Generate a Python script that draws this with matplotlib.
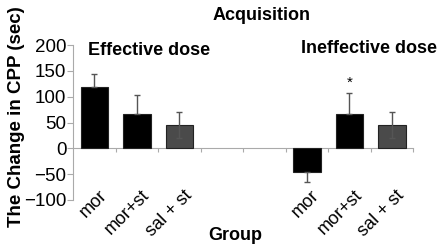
import matplotlib
matplotlib.use('Agg')
import matplotlib.pyplot as plt
import matplotlib.transforms as mtransforms
import numpy as np

plt.rcParams['font.family'] = ['Liberation Sans', 'DejaVu Sans']

# data
groups = ['mor', 'mor+st', 'sal + st', '', '', 'mor', 'mor+st', 'sal + st']
values = [118, 67, 45, np.nan, np.nan, -45, 67, 45]
err_up = [25, 36, 25, 0, 0, 0, 41, 25]
err_down = [0, 0, 25, 0, 0, 20, 0, 25]
colors = ['black', 'black', '#4a4a4a', 'white', 'white', 'black', 'black', '#4a4a4a']

fig = plt.figure(figsize=(4.41, 2.46), dpi=100)
ax = fig.add_axes([0.166, 0.187, 0.771, 0.63])

x = np.arange(len(groups))
ax.bar(x, values, width=0.64, color=colors, edgecolor='#222222', linewidth=0.8,
       yerr=[err_down, err_up], error_kw=dict(ecolor='#555555', elinewidth=1, capsize=2, capthick=1))

ax.set_xlim(-0.5, len(groups) - 0.5)
ax.set_ylim(-100, 200)
ax.set_yticks([-100, -50, 0, 50, 100, 150, 200])
ax.tick_params(axis='y', labelsize=13.5, colors='#aaaaaa', labelcolor='black', length=4, pad=1)

ax.set_xticks(x)
ax.set_xticklabels(groups, rotation=45, ha='right', va='center', rotation_mode='anchor', fontsize=13)
ax.tick_params(axis='x', length=0, pad=-5)
shift = mtransforms.ScaledTranslation(10 / 100, 0, fig.dpi_scale_trans)
for lab in ax.get_xticklabels():
    lab.set_transform(lab.get_transform() + shift)

for s in ['top', 'right', 'bottom']:
    ax.spines[s].set_visible(False)
ax.spines['left'].set_color('#aaaaaa')

# zero line with category boundary ticks
sec = ax.secondary_xaxis(100 / 300)
sec.set_xticks(np.arange(len(groups)) + 0.5)
sec.set_xticklabels([])
sec.tick_params(axis='x', length=3, colors='#aaaaaa', direction='out')
sec.spines['bottom'].set_color('#aaaaaa')

ax.text(-0.15, 190, 'Effective dose', fontsize=13, fontweight='bold', ha='left', va='center')
ax.text(6.45, 193, 'Ineffective dose', fontsize=13, fontweight='bold', ha='center', va='center')
ax.text(6, 126, '*', fontsize=11, ha='center', va='center')

ax.set_ylabel('The Change in CPP (sec)', fontsize=13.5, fontweight='bold')
ax.yaxis.set_label_coords(-0.141, 0.535)
ax.set_xlabel('Group', fontsize=13, fontweight='bold')
ax.xaxis.set_label_coords(0.476, -0.175)
fig.text(0.594, 0.937, 'Acquisition', fontsize=13, fontweight='bold', ha='center', va='center')

fig.savefig('out.png', dpi=100)
